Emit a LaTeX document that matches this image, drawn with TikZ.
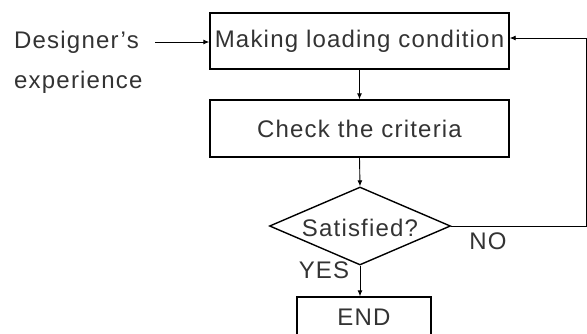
\documentclass[tikz,border=0pt]{standalone}
\usepackage{fontspec}
\setmainfont{Liberation Sans}[LetterSpace=5]
\usetikzlibrary{arrows.meta,shapes.geometric}
\definecolor{txt}{HTML}{333333}
\tikzset{
  x=1pt,y=-1pt,
  box/.style={draw=black,line width=1.4pt,rectangle,inner sep=0pt,text=txt,font=\fontsize{24}{28}\selectfont},
  lbl/.style={text=txt,inner sep=0pt,font=\fontsize{24}{28}\selectfont},
  conn/.style={draw=black,line width=0.9pt,-{Latex[length=6pt,width=5pt]}},
  plain/.style={draw=black,line width=0.9pt}
}
\begin{document}
\begin{tikzpicture}
\useasboundingbox (0,0) rectangle (587,333);
\node[box,minimum width=299pt,minimum height=56pt] (make) at (359.5,41) {Making loading condition};
\node[box,minimum width=299pt,minimum height=57pt] (check) at (359.5,128.5) {Check the criteria};
\node[draw=black,line width=1.4pt,diamond,aspect=2.3,minimum width=181pt,minimum height=78pt,inner sep=0pt] (sat) at (360,226) {};
\node[lbl] at (360,228) {Satisfied?};
\node[box,minimum width=134pt,minimum height=60pt] (end) at (364,327) {};
\node[lbl] at (364,317) {END};
\node[lbl,anchor=west] (des) at (14,42) {Designer’s};
\node[lbl,anchor=west] (exp) at (14,82) {experience};
\coordinate (dstart) at (155,42);
\coordinate (c1) at (586,226);
\coordinate (c2) at (586,38);
\draw[conn] (dstart) -- (make.west |- dstart);
\draw[conn] (make.south) -- (check.north);
\draw[conn] (check.south) -- (sat.north);
\draw[conn] (sat.south) -- (end.north -| sat.south);
\draw[plain] (sat.east) -- (c1) -- (c2);
\draw[conn] (c2) -- (make.east |- c2);
\node[lbl] at (488,241) {NO};
\node[lbl] at (324,270) {YES};
\end{tikzpicture}
\end{document}
